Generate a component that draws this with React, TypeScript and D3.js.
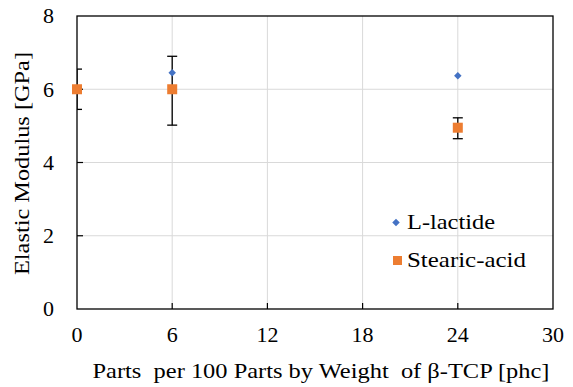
import React from "react";
import * as d3 from "d3";

const xCategories = [0, 6, 24];
const lactideValues = [6.0, 6.45, 6.37];
const stearicValues = [6.0, 6.0, 4.95];
const stearicErrLow = [5.45, 5.02, 4.65];
const stearicErrHigh = [6.55, 6.9, 5.22];
const xTicks = [0, 6, 12, 18, 24, 30];
const yTicks = [0, 2, 4, 6, 8];
const seriesNames = ["L-lactide", "Stearic-acid"];

const W = 573;
const H = 387;
const M = { left: 77, right: 553, top: 16, bottom: 309 };
const BLUE = "#4472C4";
const ORANGE = "#ED7D31";
const FONT = "'Liberation Serif', 'Times New Roman', serif";

const textStyle: React.CSSProperties = { fontFamily: FONT, fontSize: "22px" };

export default function App() {
  const x = d3.scaleLinear().domain([0, 30]).range([M.left, M.right]);
  const y = d3.scaleLinear().domain([0, 8]).range([M.bottom, M.top]);
  const diamond = d3.symbol().type(d3.symbolDiamond2).size(36)();

  return (
    <svg width={W} height={H} style={{ position: "absolute", left: 0, top: 0, background: "#fff" }}>
      <defs>
        <clipPath id="plotClip">
          <rect x={M.left} y={M.top} width={M.right - M.left} height={M.bottom - M.top} />
        </clipPath>
      </defs>
      {/* gridlines */}
      {yTicks.slice(1, -1).map((t) => (
        <line key={"gy" + t} x1={M.left} x2={M.right} y1={y(t)} y2={y(t)} stroke="#d9d9d9" strokeWidth={1} />
      ))}
      {xTicks.slice(1, -1).map((t) => (
        <line key={"gx" + t} x1={x(t)} x2={x(t)} y1={M.top} y2={M.bottom} stroke="#d9d9d9" strokeWidth={1} />
      ))}
      {/* error bars */}
      <g clipPath="url(#plotClip)">
        {xCategories.map((c, i) => (
          <g key={"eb" + i} stroke="#000" strokeWidth={1.3}>
            <line x1={x(c)} x2={x(c)} y1={y(stearicErrLow[i])} y2={y(stearicErrHigh[i])} />
            <line x1={x(c) - 5} x2={x(c) + 5} y1={y(stearicErrLow[i])} y2={y(stearicErrLow[i])} />
            <line x1={x(c) - 5} x2={x(c) + 5} y1={y(stearicErrHigh[i])} y2={y(stearicErrHigh[i])} />
          </g>
        ))}
      </g>
      {/* plot frame */}
      <rect x={M.left} y={M.top} width={M.right - M.left} height={M.bottom - M.top} fill="none" stroke="#000" strokeWidth={1.3} />
      {/* inward ticks */}
      {xTicks.slice(1, -1).map((t) => (
        <line key={"tx" + t} x1={x(t)} x2={x(t)} y1={M.bottom} y2={M.bottom - 6} stroke="#000" strokeWidth={1.2} />
      ))}
      {yTicks.slice(1, -1).map((t) => (
        <line key={"ty" + t} x1={M.left} x2={M.left + 6} y1={y(t)} y2={y(t)} stroke="#000" strokeWidth={1.2} />
      ))}
      {/* tick labels */}
      {yTicks.map((t) => (
        <text key={"ly" + t} x={54} y={y(t) + 7.4} textAnchor="end" style={textStyle} fill="#000">
          {t}
        </text>
      ))}
      {xTicks.map((t) => (
        <text key={"lx" + t} x={x(t)} y={341.5} textAnchor="middle" style={textStyle} fill="#000">
          {t}
        </text>
      ))}
      {/* axis titles */}
      <text
        x={321}
        y={377.5}
        textAnchor="middle"
        textLength={457}
        lengthAdjust="spacingAndGlyphs"
        style={{ ...textStyle, whiteSpace: "pre" }}
        fill="#000"
      >
        {"Parts  per 100 Parts by Weight  of \u03B2-TCP [phc]"}
      </text>
      <text
        transform="translate(28.5,163.5) rotate(-90)"
        textAnchor="middle"
        textLength={223}
        lengthAdjust="spacingAndGlyphs"
        style={textStyle}
        fill="#000"
      >
        Elastic Modulus [GPa]
      </text>
      {/* L-lactide points */}
      {xCategories.map((c, i) => (
        <path key={"ll" + i} d={diamond} transform={`translate(${x(c)},${y(lactideValues[i])})`} fill={BLUE} />
      ))}
      {/* Stearic-acid points */}
      {xCategories.map((c, i) => (
        <rect key={"sa" + i} x={x(c) - 5} y={y(stearicValues[i]) - 5} width={10} height={10} fill={ORANGE} />
      ))}
      {/* legend */}
      <path d={diamond} transform="translate(396,222.5)" fill={BLUE} />
      <text x={407} y={228.5} textLength={88} lengthAdjust="spacingAndGlyphs" style={textStyle} fill="#000">
        {seriesNames[0]}
      </text>
      <rect x={393} y={256} width={9} height={9} fill={ORANGE} />
      <text x={407} y={267} textLength={119} lengthAdjust="spacingAndGlyphs" style={textStyle} fill="#000">
        {seriesNames[1]}
      </text>
    </svg>
  );
}
